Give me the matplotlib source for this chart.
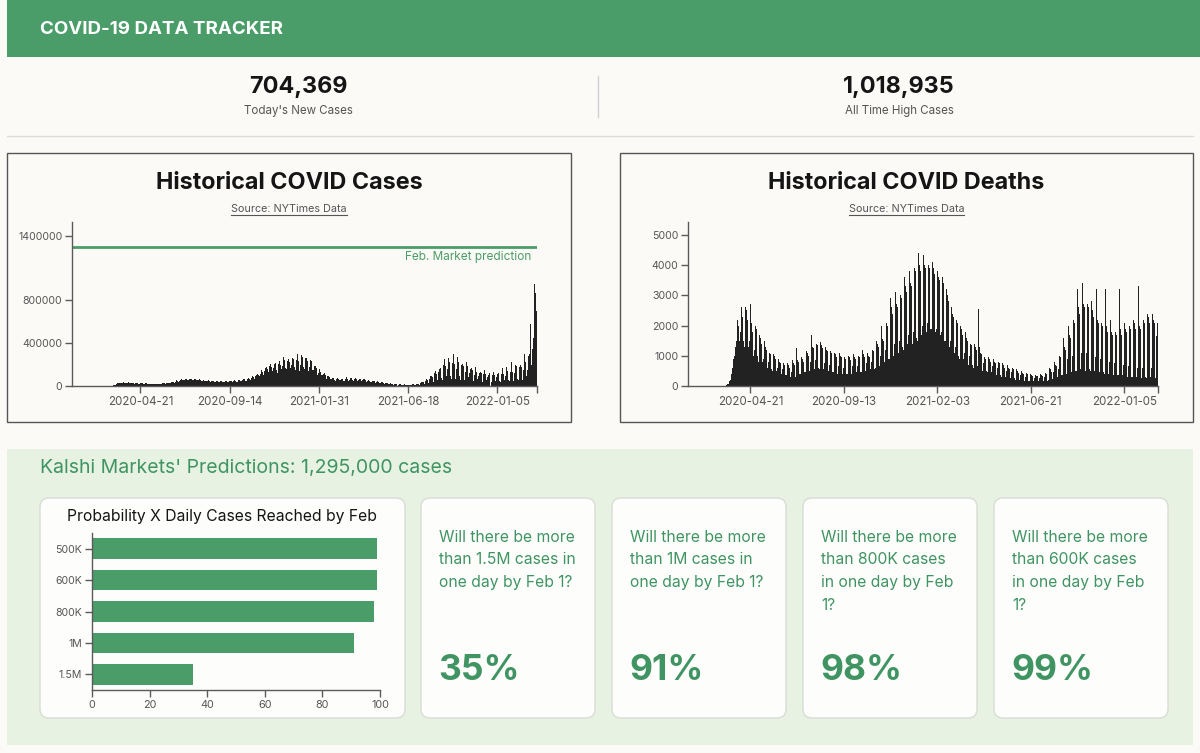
import numpy as np
import matplotlib
matplotlib.use('Agg')
import matplotlib.pyplot as plt
from matplotlib.patches import Rectangle, FancyBboxPatch
import matplotlib.transforms as mtransforms

plt.rcParams['font.family'] = ['Inter', 'DejaVu Sans']

# ---------------- data ----------------
header_title = "COVID-19 DATA TRACKER"
stat_values = ["704,369", "1,018,935"]
stat_labels = ["Today's New Cases", "All Time High Cases"]

prediction = 1295000

# daily new cases (thousands)
cases_k = [0] * 56 + [0, 0, 0, 0, 0, 1, 1] + [
    2, 3, 5, 8, 10, 14, 18,
    20, 25, 28, 30, 32, 33, 30,
    28, 30, 32, 33, 34, 31, 27,
    26, 29, 31, 32, 33, 30, 26,
    25, 28, 30, 31, 30, 28, 24,
    23, 26, 28, 29, 28, 26, 22,
    21, 24, 26, 27, 26, 24, 20,
    20, 22, 24, 25, 24, 22, 19,
    19, 21, 23, 24, 23, 21, 18,
    18, 20, 22, 23, 22, 20, 18,
    18, 20, 22, 24, 23, 21, 19,
    19, 22, 25, 27, 26, 24, 21,
    22, 26, 30, 33, 32, 29, 25,
    28, 33, 38, 42, 41, 37, 31,
    35, 42, 48, 52, 50, 46, 40,
    45, 52, 58, 62, 60, 56, 48,
    52, 60, 66, 70, 68, 63, 54,
    55, 62, 68, 72, 70, 65, 55,
    52, 60, 66, 69, 67, 62, 52,
    48, 55, 60, 63, 61, 56, 47,
    43, 50, 55, 58, 56, 51, 43,
    40, 46, 51, 54, 52, 48, 40,
    37, 43, 48, 50, 48, 44, 37,
    35, 40, 45, 47, 45, 42, 35,
    34, 39, 44, 46, 44, 41, 34,
    34, 39, 44, 47, 45, 42, 35,
    36, 42, 47, 50, 48, 45, 37,
    38, 44, 50, 53, 51, 47, 39,
    40, 47, 54, 58, 56, 51, 42,
    45, 53, 60, 65, 63, 57, 47,
    50, 60, 70, 76, 73, 66, 54,
    60, 72, 85, 92, 88, 80, 65,
    75, 90, 105, 115, 110, 100, 82,
    95, 115, 135, 150, 145, 130, 105,
    115, 140, 165, 185, 178, 160, 128,
    130, 160, 190, 210, 200, 180, 140,
    140, 170, 205, 230, 215, 190, 150,
    120, 175, 210, 235, 225, 200, 155,
    150, 185, 225, 275, 240, 215, 165,
    160, 195, 235, 255, 245, 220, 170,
    165, 200, 240, 260, 250, 225, 175,
    150, 190, 245, 290, 300, 230, 160,
    140, 200, 250, 285, 270, 235, 180,
    160, 210, 260, 280, 265, 230, 170,
    140, 180, 220, 240, 230, 200, 150,
    120, 150, 185, 200, 190, 165, 125,
    100, 125, 150, 160, 155, 135, 105,
    80, 100, 115, 125, 120, 105, 85,
    65, 80, 92, 98, 95, 85, 68,
    55, 65, 75, 80, 78, 70, 57,
    50, 60, 68, 72, 70, 63, 52,
    48, 57, 65, 70, 68, 61, 50,
    48, 58, 66, 85, 70, 63, 52,
    50, 60, 68, 73, 71, 64, 53,
    50, 60, 68, 73, 71, 64, 52,
    48, 58, 66, 70, 68, 61, 50,
    45, 54, 62, 66, 64, 58, 47,
    40, 48, 55, 58, 56, 51, 42,
    35, 42, 48, 51, 49, 45, 37,
    30, 36, 41, 44, 42, 38, 31,
    25, 30, 34, 36, 35, 32, 26,
    20, 24, 28, 30, 29, 26, 21,
    16, 19, 22, 24, 23, 21, 17,
    13, 15, 17, 18, 18, 16, 13,
    11, 13, 15, 16, 15, 14, 11,
    10, 12, 14, 15, 14, 13, 10,
    9, 11, 13, 14, 13, 12, 9,
    10, 60, 15, 16, 15, 14, 11,
    12, 15, 18, 20, 19, 17, 13,
    14, 30, 40, 45, 42, 38, 20,
    20, 45, 60, 65, 60, 55, 30,
    30, 70, 90, 100, 95, 85, 45,
    40, 100, 125, 140, 130, 115, 60,
    50, 130, 160, 180, 170, 150, 75,
    60, 150, 200, 255, 215, 190, 90,
    65, 160, 210, 265, 225, 200, 95,
    70, 165, 215, 295, 230, 205, 100,
    65, 160, 210, 270, 225, 200, 95,
    60, 150, 195, 290, 210, 185, 90,
    55, 135, 175, 220, 190, 165, 80,
    50, 120, 155, 200, 170, 150, 70,
    45, 105, 135, 175, 150, 130, 62,
    40, 95, 120, 160, 135, 118, 56,
    38, 90, 112, 150, 125, 110, 52,
    36, 85, 105, 140, 118, 104, 50,
    35, 82, 102, 130, 115, 100, 48,
    36, 85, 108, 155, 120, 105, 50,
    38, 90, 115, 165, 125, 110, 52,
    40, 95, 125, 180, 140, 120, 55,
    45, 100, 135, 220, 160, 135, 60,
    50, 120, 160, 200, 190, 160, 70,
    55, 130, 180, 210, 200, 175, 75,
    60, 150, 200, 300, 220, 250, 90,
    80, 150, 280, 540, 300, 580, 480,
    200, 350, 600, 450, 1018.935, 950, 870,
    650, 704.369]

cases_tick_idx = [107, 247, 387, 527, 667]
cases_tick_labels = ["2020-04-21", "2020-09-14", "2021-01-31", "2021-06-18", "2022-01-05"]
cases_yticks = [0, 400000, 800000, 1400000]

# daily deaths
deaths = [0] * 49 + [0, 0, 0, 1, 2, 4, 6] + [
    10, 20, 30, 50, 80, 120, 150,
    200, 250, 400, 600, 800, 900, 1000,
    1100, 1300, 1500, 1800, 2200, 2000, 1600,
    1500, 1800, 2700, 2600, 2300, 2100, 1500,
    1300, 1700, 2600, 2500, 2400, 2200, 1300,
    1200, 1500, 2700, 2300, 2100, 1800, 1200,
    1000, 1200, 2500, 2000, 1900, 1700, 1000,
    800, 1000, 1700, 1600, 1500, 1400, 800,
    700, 900, 1500, 1400, 1300, 1200, 650,
    600, 800, 1200, 1100, 1050, 1000, 550,
    500, 650, 1050, 1000, 950, 900, 500,
    450, 600, 900, 850, 800, 750, 400,
    400, 550, 800, 750, 700, 650, 350,
    350, 500, 750, 700, 650, 600, 300,
    2450, 450, 850, 800, 750, 700, 350,
    300, 1250, 900, 850, 800, 750, 400,
    400, 600, 950, 900, 850, 800, 450,
    450, 700, 1150, 1100, 1050, 1000, 500,
    500, 800, 1700, 1350, 1300, 1250, 600,
    550, 850, 1450, 1400, 1350, 1300, 600,
    550, 800, 1450, 1350, 1300, 1250, 550,
    500, 750, 1300, 1250, 1200, 1150, 500,
    500, 700, 1200, 1150, 1100, 1050, 450,
    450, 650, 1100, 1050, 1000, 950, 400,
    450, 650, 1100, 1050, 1000, 950, 400,
    400, 600, 1000, 950, 900, 850, 400,
    400, 600, 1000, 950, 900, 850, 400,
    450, 650, 1050, 1000, 950, 900, 450,
    450, 650, 1100, 1000, 950, 900, 450,
    450, 700, 1200, 1050, 1000, 950, 500,
    500, 750, 1100, 1050, 1000, 950, 500,
    550, 800, 1700, 1200, 1150, 1100, 550,
    600, 900, 1500, 1400, 1350, 1300, 650,
    700, 1000, 2000, 1600, 1550, 1500, 800,
    800, 1200, 2200, 2100, 2000, 1900, 900,
    900, 1300, 2900, 2600, 2500, 2400, 1000,
    1000, 1400, 3100, 2800, 2700, 2600, 1200,
    1100, 1500, 3400, 3000, 2900, 2800, 1300,
    1200, 1600, 3600, 3300, 3200, 3100, 1400,
    1300, 1700, 3800, 3500, 3400, 3300, 1500,
    1400, 1800, 4100, 3900, 3800, 3700, 1600,
    1500, 1900, 4400, 4000, 3900, 3800, 1700,
    1700, 2000, 4350, 4100, 4000, 3900, 1800,
    1800, 2100, 4200, 4000, 3900, 3800, 1900,
    1900, 2000, 4100, 3900, 3800, 3700, 1800,
    5100, 1900, 3800, 3700, 3600, 3500, 1700,
    1700, 1800, 5400, 3600, 3400, 3300, 1500,
    1500, 1700, 3200, 3000, 2900, 2800, 1300,
    1300, 1500, 2600, 2500, 2400, 2300, 1100,
    1100, 1300, 2500, 2200, 2100, 2000, 1000,
    900, 1200, 2000, 1900, 1800, 1700, 900,
    800, 1100, 1800, 1700, 1600, 1500, 800,
    700, 1000, 1500, 1400, 1350, 1300, 700,
    600, 900, 1400, 1300, 1250, 1200, 650,
    550, 2550, 1300, 1150, 1100, 1050, 600,
    500, 750, 1000, 950, 900, 850, 500,
    450, 700, 950, 900, 850, 800, 450,
    400, 650, 900, 850, 800, 750, 400,
    350, 600, 1350, 800, 750, 700, 350,
    300, 550, 750, 700, 650, 600, 300,
    250, 500, 700, 650, 600, 550, 250,
    250, 450, 650, 600, 550, 500, 250,
    200, 400, 550, 500, 450, 420, 200,
    200, 350, 500, 450, 420, 400, 200,
    180, 300, 450, 420, 400, 380, 180,
    150, 280, 400, 380, 360, 340, 150,
    150, 250, 380, 360, 340, 320, 150,
    150, 250, 400, 380, 360, 340, 160,
    160, 300, 450, 420, 400, 380, 180,
    200, 350, 600, 550, 500, 480, 220,
    250, 450, 800, 750, 700, 650, 300,
    300, 550, 1100, 1000, 950, 900, 350,
    350, 700, 1600, 1300, 1250, 1200, 400,
    400, 900, 2000, 1800, 1700, 1600, 450,
    450, 1000, 2600, 2200, 2100, 2000, 500,
    500, 1100, 3200, 2600, 2500, 2400, 550,
    500, 1100, 3400, 2800, 2700, 2600, 550,
    500, 1100, 3200, 2700, 2600, 2500, 550,
    500, 1000, 2800, 2500, 2400, 2300, 500,
    450, 950, 3200, 2300, 2200, 2100, 500,
    450, 900, 2400, 2100, 2000, 1900, 450,
    400, 850, 3200, 2000, 1900, 1800, 400,
    400, 800, 2200, 1900, 1800, 1700, 400,
    350, 750, 2000, 1800, 1700, 1600, 350,
    350, 700, 3200, 1900, 1800, 1700, 350,
    300, 700, 2100, 2000, 1900, 1800, 350,
    300, 650, 2100, 2000, 1900, 1800, 300,
    300, 650, 2200, 2100, 2000, 1900, 300,
    250, 600, 3300, 2100, 2000, 1900, 300,
    250, 600, 2500, 2200, 2100, 2000, 300,
    250, 600, 2400, 2300, 2200, 2100, 300,
    250, 600, 2400, 2300, 2200, 2100, 300,
    250, 1650, 2350, 2100]

deaths_tick_idx = [93, 233, 373, 513, 653]
deaths_tick_labels = ["2020-04-21", "2020-09-13", "2021-02-03", "2021-06-21", "2022-01-05"]
deaths_yticks = [0, 1000, 2000, 3000, 4000, 5000]

prob_labels = ["500K", "600K", "800K", "1M", "1.5M"]
prob_values = [99, 99, 98, 91, 35]

card_questions = [
    ["Will there be more", "than 1.5M cases in", "one day by Feb 1?"],
    ["Will there be more", "than 1M cases in", "one day by Feb 1?"],
    ["Will there be more", "than 800K cases", "in one day by Feb", "1?"],
    ["Will there be more", "than 600K cases", "in one day by Feb", "1?"],
]
card_pcts = ["35%", "91%", "98%", "99%"]

# ---------------- style ----------------
PAGE = '#fbfaf7'
GREEN = '#4a9d68'
GREEN_TXT = '#3f9462'
SECTION = '#e7f2e2'
AXC = '#5a5a5a'

W, H = 1200, 753
fig = plt.figure(figsize=(12, 7.53), dpi=100)
fig.patch.set_facecolor(PAGE)
bg = fig.add_axes([0, 0, 1, 1])
bg.set_xlim(0, W)
bg.set_ylim(H, 0)
bg.axis('off')


def px_axes(x0, y0, x1, y1):
    return fig.add_axes([x0 / W, 1 - y1 / H, (x1 - x0) / W, (y1 - y0) / H])


# header
bg.add_patch(Rectangle((7, 0), W - 7, 57, color=GREEN, lw=0))
bg.text(40, 29, header_title, color='white', fontsize=13.5, fontweight='bold',
        ha='left', va='center')

# stats
for cx, v, lab in zip([298, 899], stat_values, stat_labels):
    bg.text(cx, 87, v, fontsize=16.8, fontweight='bold', color='#151515', ha='center', va='center')
    bg.text(cx, 111, lab, fontsize=8.3, color='#555555', ha='center', va='center')
bg.plot([598, 598], [76, 117], color='#d0d0d0', lw=1)
bg.plot([7, 1193], [136, 136], color='#dcdcdc', lw=1)

# chart panels
panels = [(7, 571, "Historical COVID Cases"), (620, 1193, "Historical COVID Deaths")]
src_texts = []
for x0, x1, title in panels:
    bg.add_patch(Rectangle((x0, 153), x1 - x0, 269, fill=False, ec='#555555', lw=1))
    cx = (x0 + x1) / 2
    bg.text(cx, 183, title, fontsize=16.8, fontweight='bold', color='#151515', ha='center', va='center')
    t = bg.text(cx, 209, "Source: NYTimes Data", fontsize=7.8, color='#555555', ha='center', va='center')
    src_texts.append(t)


def style_axes(ax, xsize=8.3, ysize=7.6):
    ax.set_facecolor('none')
    for s in ['top', 'right']:
        ax.spines[s].set_visible(False)
    for s in ['left', 'bottom']:
        ax.spines[s].set_color(AXC)
        ax.spines[s].set_linewidth(1)
    ax.tick_params(axis='both', which='both', colors=AXC, labelcolor='#555555',
                   length=5, width=1, pad=2)
    ax.tick_params(axis='x', labelsize=xsize)
    ax.tick_params(axis='y', labelsize=ysize)


BARC = '#222222'

# cases chart
axc = px_axes(72, 222, 537, 386)
style_axes(axc)
nc = len(cases_k)
axc.bar(np.arange(nc), np.array(cases_k) * 1000, width=1.0, color=BARC, lw=0)
axc.set_xlim(-0.5, nc - 0.5)
axc.set_ylim(0, 1531000)
axc.set_yticks(cases_yticks)
axc.set_yticklabels([str(v) for v in cases_yticks])
axc.set_xticks(cases_tick_idx)
axc.set_xticklabels(cases_tick_labels)
axc.set_xticks([nc - 0.5], minor=True)
axc.axhline(prediction, color=GREEN, lw=2)
axc.annotate("Feb. Market prediction", xy=(1, prediction),
             xycoords=mtransforms.blended_transform_factory(axc.transAxes, axc.transData),
             xytext=(-6, -10), textcoords='offset pixels', ha='right', va='center',
             fontsize=8.5, color=GREEN)

# deaths chart
axd = px_axes(688, 222, 1158, 386)
style_axes(axd)
nd = len(deaths)
axd.bar(np.arange(nd), deaths, width=1.0, color=BARC, lw=0)
axd.set_xlim(-0.5, nd - 0.5)
axd.set_ylim(0, 5430)
axd.set_yticks(deaths_yticks)
axd.set_yticklabels([str(v) for v in deaths_yticks])
axd.set_xticks(deaths_tick_idx)
axd.set_xticklabels(deaths_tick_labels)
axd.set_xticks([nd - 0.5], minor=True)

# green section
bg.add_patch(Rectangle((7, 449), 1186, 296, color=SECTION, lw=0))
bg.text(40, 468, "Kalshi Markets' Predictions: 1,295,000 cases", fontsize=14,
        color=GREEN_TXT, ha='left', va='center')

# cards
cards = [(40, 405)] + [(421, 595), (612, 786), (803, 977), (994, 1168)]
for x0, x1 in cards:
    bg.add_patch(FancyBboxPatch((x0, 498), x1 - x0, 220,
                                boxstyle="round,pad=0,rounding_size=9",
                                fc='#fdfdfc', ec='#d9dcd6', lw=1))

bg.text(222, 517, "Probability X Daily Cases Reached by Feb", fontsize=11.3, color='#151515',
        ha='center', va='center')

for (x0, x1), lines, pct in zip(cards[1:], card_questions, card_pcts):
    for i, ln in enumerate(lines):
        bg.text(x0 + 18, 537 + 22.8 * i, ln, fontsize=11.3, color=GREEN_TXT, ha='left', va='center')
    bg.text(x0 + 17, 670, pct, fontsize=25.5, fontweight='bold', color=GREEN_TXT,
            ha='left', va='center')

# probability bar chart
axb = px_axes(92, 533, 380, 690)
style_axes(axb, xsize=7.8, ysize=7.6)
axb.barh(np.arange(len(prob_values)), prob_values, height=0.65, color=GREEN, lw=0)
axb.set_ylim(len(prob_values) - 0.5, -0.5)
axb.set_xlim(0, 100)
axb.set_yticks(np.arange(len(prob_labels)))
axb.set_yticklabels(prob_labels)
axb.set_xticks([0, 20, 40, 60, 80, 100])
axb.set_xticks([100], minor=True)

# underline the source links
fig.canvas.draw()
r = fig.canvas.get_renderer()
for t in src_texts:
    bb = t.get_window_extent(r)
    yy = H - bb.y0 + 0.5
    bg.plot([bb.x0, bb.x1], [yy, yy], color='#555555', lw=0.8)

fig.savefig('out.png', dpi=100, facecolor=PAGE)
